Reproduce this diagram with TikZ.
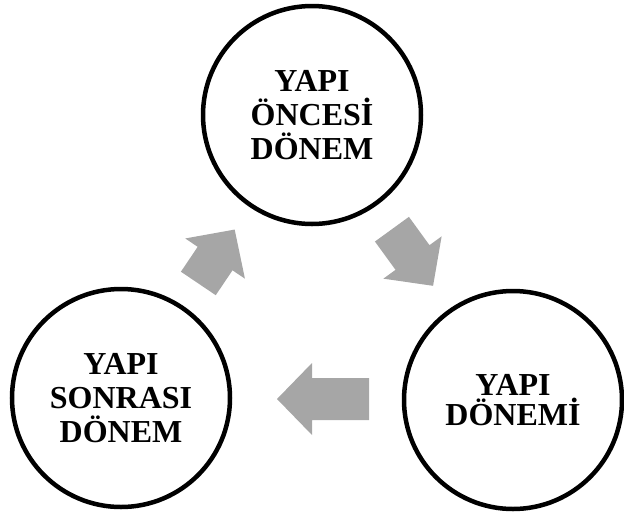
\documentclass[tikz,border=0pt]{standalone}
\usepackage{fontspec}
\setmainfont{Liberation Serif}
\usetikzlibrary{calc}
\definecolor{arrowgray}{RGB}{166,166,166}
\begin{document}
\begin{tikzpicture}[x=1pt,y=-1pt,
  phase/.style={circle,draw=black,line width=4.5pt,minimum size=218pt,inner sep=0pt,
    align=center,font=\fontsize{32}{34}\selectfont\bfseries},
  pics/blockarrow/.style={code={
    \fill[arrowgray] (-#1/2,-21) -- (#1/2-35,-21) -- (#1/2-35,-36) -- (#1/2,0)
      -- (#1/2-35,36) -- (#1/2-35,21) -- (-#1/2,21) -- cycle;}}]
\useasboundingbox (0,0) rectangle (624,515);
\node[phase] (pre) at (312,115) {YAPI\\ÖNCESİ\\DÖNEM};
\node[phase] (post) at (121,398) {YAPI\\SONRASI\\DÖNEM};
\node[phase,font=\fontsize{32}{30}\selectfont\bfseries] (during) at (513,400) {YAPI\\DÖNEMİ};
\pic[rotate=56] at ($(post)!0.5!(pre)$) {blockarrow=65};
\pic[rotate=-54] at ($(pre)!0.5!(during)$) {blockarrow=70};
\pic[rotate=180] at ($(during)!0.5!(post)+(6,0)$) {blockarrow=92};
\end{tikzpicture}
\end{document}
